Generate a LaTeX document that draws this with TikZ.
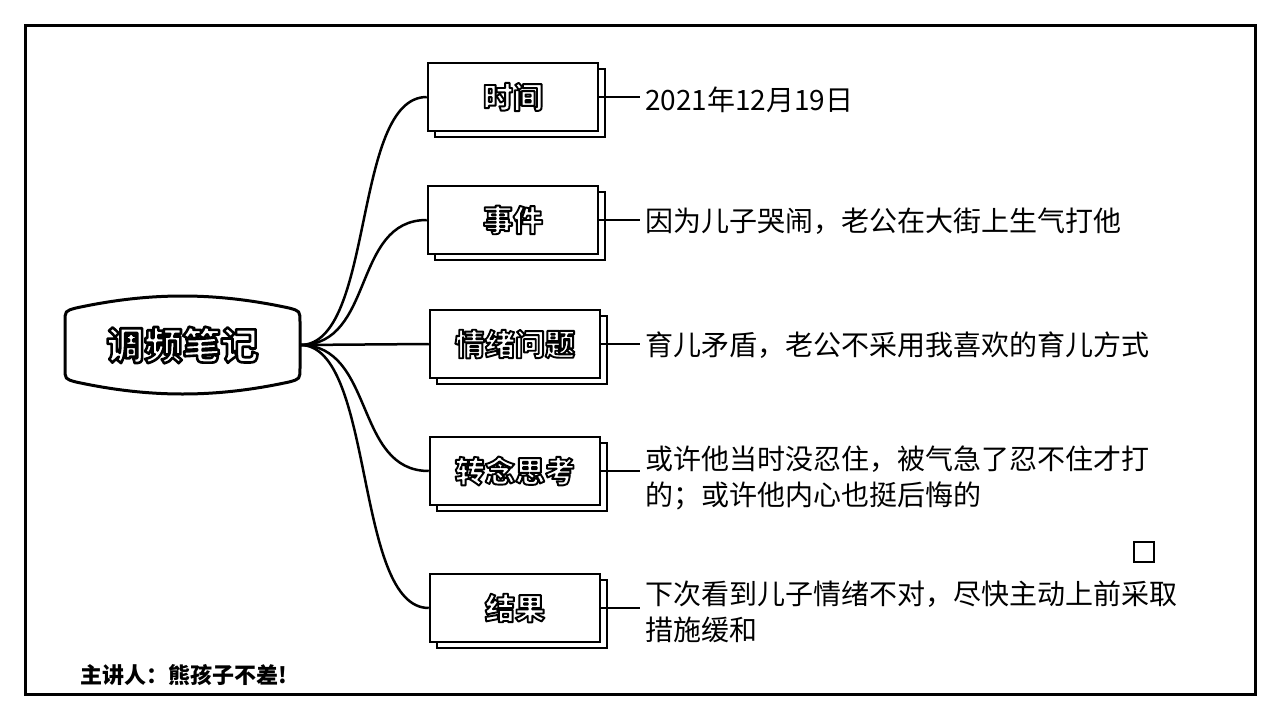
\documentclass[tikz,border=0pt]{standalone}
\usepackage{fontspec}
\setmainfont{Noto Sans CJK SC}
\usetikzlibrary{shadows}
\newcommand{\outl}[2][1.9]{\special{pdf:literal direct 2 Tr #1 w 1 j 1 1 1 rg 0 0 0 RG}#2\special{pdf:literal direct 0 Tr 0 0 0 rg}}
\begin{document}
\begin{tikzpicture}[x=1pt,y=-1pt,
  frame/.style={line width=3pt},
  box/.style={draw, fill=white, line width=2.5pt, minimum width=170pt, minimum height=68pt, inner sep=0pt,
    font=\fontsize{30}{32}\selectfont\bfseries,
    copy shadow={shadow xshift=7pt, shadow yshift=-6pt, draw=black, fill=white, line width=2.5pt}},
  leaf/.style={anchor=west, inner sep=5pt, align=left, font=\fontsize{28}{36}\selectfont},
  link/.style={line width=2.5pt},
]
\path[use as bounding box, fill=white] (0,0) rectangle (1280,720);
\draw[frame] (25,25) rectangle (1255,694);

% root
\node[minimum width=235pt, minimum height=70pt, inner sep=0pt, font=\fontsize{38}{40}\selectfont\bfseries] (root) at (182.5,345) {\outl[2.6]{调频笔记}};
\draw[line width=3pt] (65,322) .. controls (65,311) .. (76,308) .. controls (150,292) and (215,292) .. (289,308) .. controls (300,311) .. (300,322) -- (300,368) .. controls (300,379) .. (289,382) .. controls (215,398) and (150,398) .. (76,382) .. controls (65,379) .. (65,368) -- cycle;

% branches
\node[box] (b1) at (513,97) {\outl{时间}};
\node[box] (b2) at (513,220) {\outl{事件}};
\node[box] (b3) at (515,344) {\outl{情绪问题}};
\node[box] (b4) at (515,471) {\outl{转念思考}};
\node[box] (b5) at (515,608) {\outl{结果}};

\foreach \b in {b1,b2,b4,b5}
  \draw[link] (root.east) .. controls +(75,0) and +(-75,0) .. (\b.west);
\draw[link] (root.east) -- (b3.west);

% leaves
\node[leaf] (t1) at (640,100) {2021年12月19日};
\node[leaf] (t2) at (640,221) {因为儿子哭闹，老公在大街上生气打他};
\node[leaf] (t3) at (640,345) {育儿矛盾，老公不采用我喜欢的育儿方式};
\node[leaf] (t4) at (640,478) {或许他当时没忍住，被气急了忍不住才打\\的；或许他内心也挺后悔的};
\node[leaf] (t5) at (640,612) {下次看到儿子情绪不对，尽快主动上前采取\\措施缓和};

\draw[link] (b1.east) -- (b1.east -| t1.west);
\draw[link] (b2.east) -- (b2.east -| t2.west);
\draw[link] (b3.east) -- (b3.east -| t3.west);
\draw[link] (b4.east) -- (b4.east -| t4.west);
\draw[link] (b5.east) -- (b5.east -| t5.west);

\node[draw, line width=2.5pt, minimum size=20pt, inner sep=0pt] (sq) at (1144,552) {};

\node[anchor=west, inner sep=0pt, font=\fontsize{22}{24}\selectfont\bfseries] (credit) at (80,675) {主讲人：熊孩子不差!};
\end{tikzpicture}
\end{document}
